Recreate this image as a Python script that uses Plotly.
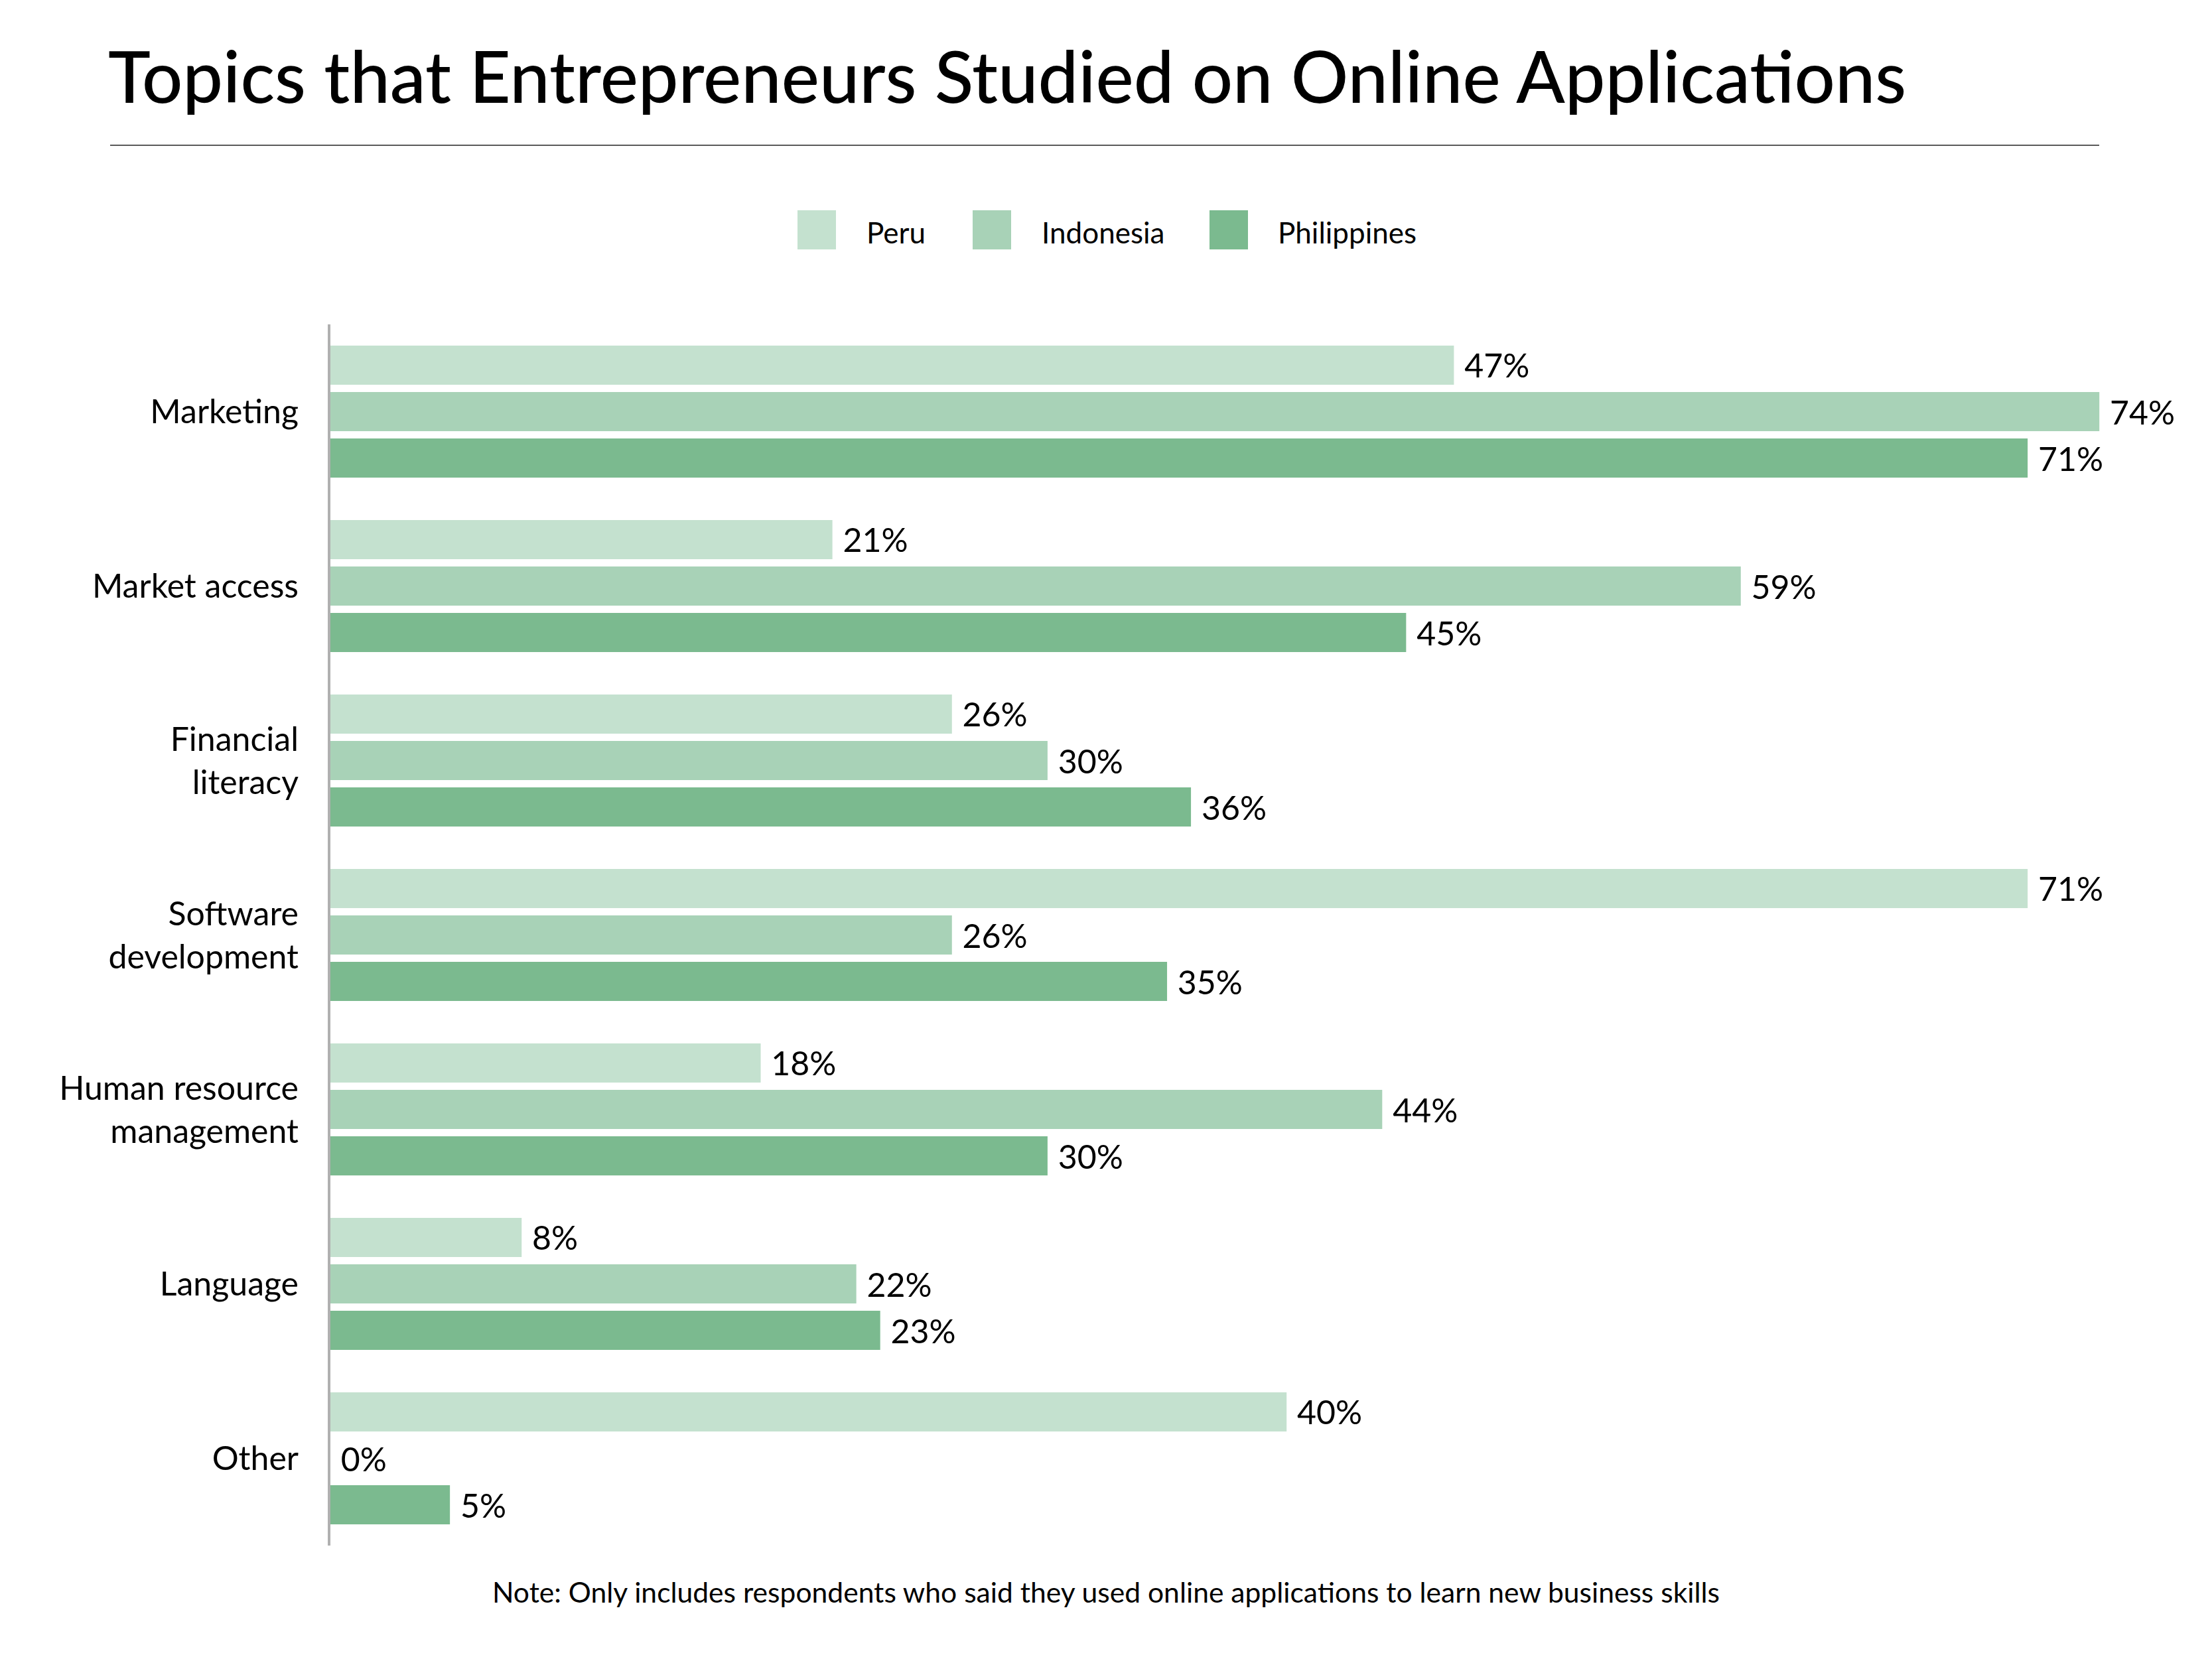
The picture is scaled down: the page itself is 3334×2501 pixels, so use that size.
import plotly.graph_objects as go

# ---- data ----
categories = ["Marketing", "Market access", "Financial<br>literacy", "Software<br>development",
              "Human resource<br>management", "Language", "Other"]
series_names = ["Peru", "Indonesia", "Philippines"]
peru = [47, 21, 26, 71, 18, 8, 40]
indonesia = [74, 59, 30, 26, 44, 22, 0]
philippines = [71, 45, 36, 35, 30, 23, 5]
series_values = [peru, indonesia, philippines]
colors = ["#c4e1cf", "#a8d2b7", "#7bba8f"]

title_text = "Topics that Entrepreneurs Studied on Online Applications"
note_text = "Note: Only includes respondents who said they used online applications to learn new business skills"

FONT = "Lato"
W, H = 3334, 2501
L, R, T, B = 498, 3308, 489, 2330


def px(x):
    return (x - L) / (R - L)


def py(y):
    return (B - y) / (B - T)


fig = go.Figure()
for name, vals, col in zip(series_names, series_values, colors):
    fig.add_trace(go.Bar(
        y=categories, x=vals, name=name, orientation="h",
        marker=dict(color=col, line=dict(width=0)),
        texttemplate="\u00a0%{x}%", textposition="outside",
        textfont=dict(family=FONT, size=50, color="#000"),
        constraintext="none", cliponaxis=False, showlegend=False,
        hoverinfo="skip",
    ))

shapes = [dict(type="line", xref="paper", yref="paper", x0=px(166), x1=px(3164),
               y0=py(219), y1=py(219), line=dict(color="#5a5a5a", width=2))]
annotations = []

# manual legend (large square swatches)
sw_x = [1202, 1466, 1823]
txt_x = [1304, 1568, 1924]
for i, name in enumerate(series_names):
    shapes.append(dict(type="rect", xref="paper", yref="paper",
                       x0=px(sw_x[i]), x1=px(sw_x[i] + 58), y0=py(376), y1=py(317),
                       fillcolor=colors[i], line=dict(width=0)))
    annotations.append(dict(text=name, xref="paper", yref="paper", x=px(txt_x[i]), y=py(350),
                            xanchor="left", yanchor="middle", showarrow=False,
                            font=dict(family=FONT, size=44, color="#000")))

annotations.append(dict(text=note_text, xref="paper", yref="paper", x=px(1667), y=py(2399),
                        xanchor="center", yanchor="middle", showarrow=False,
                        font=dict(family=FONT, size=42.6, color="#000")))

fig.update_layout(
    width=W, height=H,
    margin=dict(l=L, r=W - R, t=T, b=H - B, pad=0),
    paper_bgcolor="white", plot_bgcolor="white",
    barmode="group", bargap=0.2015, bargroupgap=0.157,
    title=dict(text=title_text, xref="container", yref="container",
               x=163 / W, xanchor="left", y=1 - 117 / H, yanchor="middle",
               font=dict(family=FONT, size=108, color="#000", weight=500)),
    xaxis=dict(range=[0, (R - L) / 36.03], visible=False, showgrid=False, zeroline=False,
               fixedrange=True),
    yaxis=dict(autorange="reversed", showgrid=False, zeroline=False, showline=True,
               linecolor="#b0b0b0", linewidth=4, ticks="", ticklabelstandoff=34,
               tickfont=dict(family=FONT, size=50, color="#000")),
    shapes=shapes, annotations=annotations,
    font=dict(family=FONT),
)

fig.write_html("out.html")
